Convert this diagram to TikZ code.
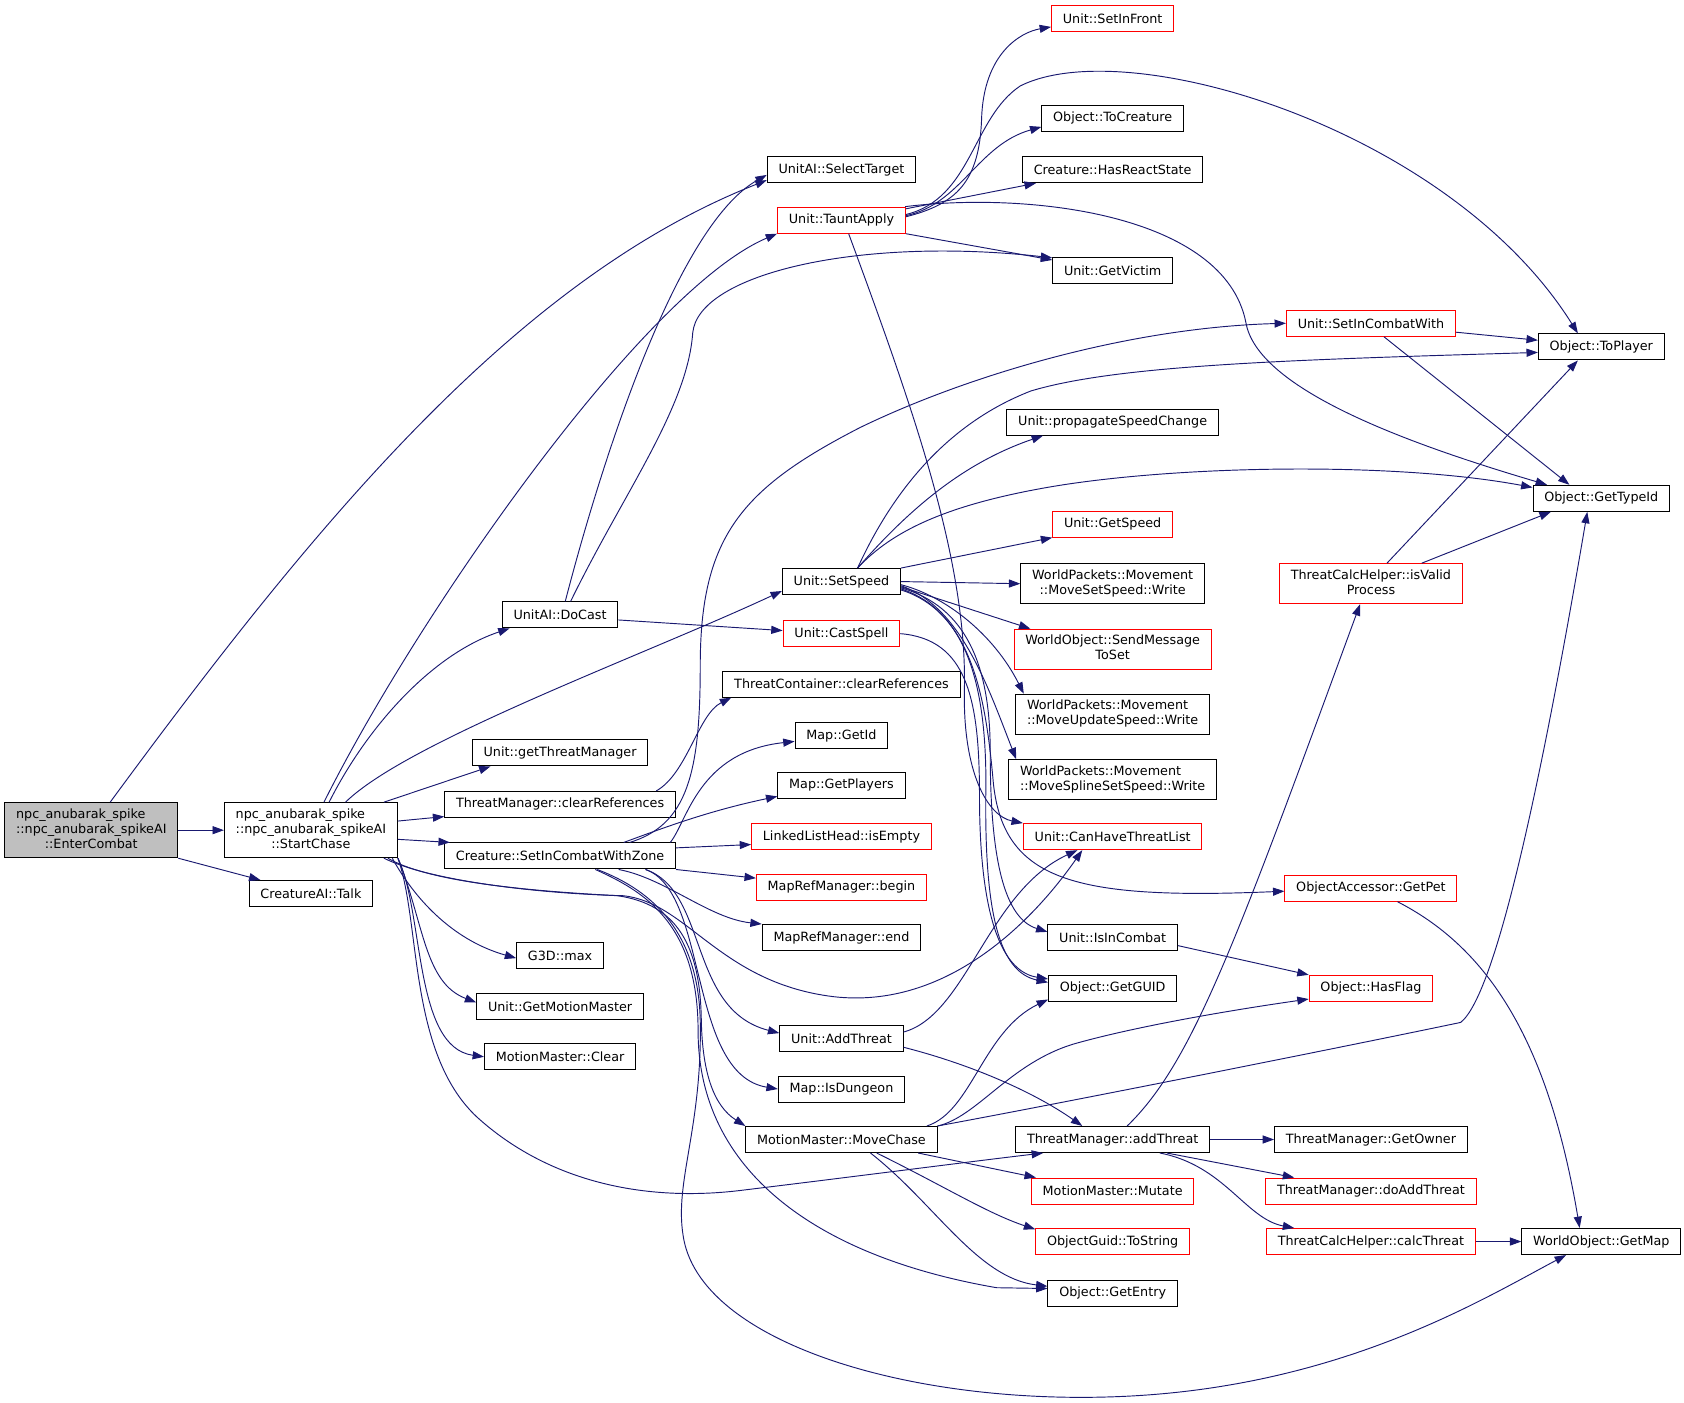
\documentclass[tikz,border=0pt]{standalone}
\usepackage{fontspec}
\setmainfont{DejaVu Sans}
\usetikzlibrary{arrows.meta}
\definecolor{edgeblue}{HTML}{191970}
\definecolor{nodegray}{HTML}{BFBFBF}
\newcommand{\dlines}[2]{\begin{tabular}{@{}l@{}}#1\\\multicolumn{1}{@{}c@{}}{#2}\end{tabular}}
\newcommand{\tlines}[3]{\begin{tabular}{@{}l@{}}#1\\#2\\\multicolumn{1}{@{}c@{}}{#3}\end{tabular}}
\tikzset{
  fn/.style={draw=black, fill=white, line width=0.75pt, inner xsep=8.4pt, inner ysep=3.7pt, minimum height=19.4pt, font=\fontsize{9.5}{11.2}\selectfont},
  fnred/.style={fn, draw=red},
  fngray/.style={fn, fill=nodegray},
  call/.style={edgeblue, line width=0.7pt, -{Triangle[length=8.5pt,width=6pt]}}
}
\begin{document}
\begin{tikzpicture}[x=0.8pt,y=-0.8pt]
        \useasboundingbox (0,0) rectangle (1568,1306);
        \node[fngray] (enter) at (85,773) {\tlines{npc\_anubarak\_spike}{::npc\_anubarak\_spikeAI}{::EnterCombat}};
        \node[fn] (chase) at (289.5,773) {\tlines{npc\_anubarak\_spike}{::npc\_anubarak\_spikeAI}{::StartChase}};
        \node[fn] (talk) at (289.5,832) {CreatureAI::Talk};
        \node[fn] (selt) at (783.5,158) {UnitAI::SelectTarget};
        \node[fnred] (taunt) at (783.5,205) {Unit::TauntApply};
        \node[fn] (docast) at (521.5,572.5) {UnitAI::DoCast};
        \node[fn] (gettm) at (521.5,701) {Unit::getThreatManager};
        \node[fn] (clrref) at (521.5,749) {ThreatManager::clearReferences};
        \node[fn] (zone) at (521.5,797) {Creature::SetInCombatWithZone};
        \node[fn] (gmax) at (521.5,890) {G3D::max};
        \node[fn] (getmm) at (521.5,937.5) {Unit::GetMotionMaster};
        \node[fn] (clear) at (521.5,984) {MotionMaster::Clear};
        \node[fn] (speed) at (783.5,541.5) {Unit::SetSpeed};
        \node[fnred] (cast) at (783.5,590) {Unit::CastSpell};
        \node[fn] (tcclr) at (783.5,637) {ThreatContainer::clearReferences};
        \node[fn] (mapid) at (783.5,685) {Map::GetId};
        \node[fn] (players) at (783.5,731) {Map::GetPlayers};
        \node[fnred] (isempty) at (783.5,779) {LinkedListHead::isEmpty};
        \node[fnred] (mbegin) at (783.5,826) {MapRefManager::begin};
        \node[fn] (mend) at (783.5,873) {MapRefManager::end};
        \node[fn] (uaddthr) at (783.5,967) {Unit::AddThreat};
        \node[fn] (dungeon) at (783.5,1014) {Map::IsDungeon};
        \node[fn] (movechase) at (783.5,1061) {MotionMaster::MoveChase};
        \node[fnred] (infront) at (1036,17) {Unit::SetInFront};
        \node[fn] (tocreat) at (1036,110) {Object::ToCreature};
        \node[fn] (react) at (1036,158) {Creature::HasReactState};
        \node[fn] (victim) at (1036,252) {Unit::GetVictim};
        \node[fnred] (combatw) at (1276.5,301) {Unit::SetInCombatWith};
        \node[fn] (toplayer) at (1491,323) {Object::ToPlayer};
        \node[fn] (propag) at (1036,393) {Unit::propagateSpeedChange};
        \node[fn] (typeid) at (1491,464) {Object::GetTypeId};
        \node[fnred] (getspeed) at (1036,488) {Unit::GetSpeed};
        \node[fn] (wsetspd) at (1036,543.5) {\dlines{WorldPackets::Movement}{::MoveSetSpeed::Write}};
        \node[fnred] (sendmsg) at (1036,604.5) {\dlines{WorldObject::SendMessage}{ToSet}};
        \node[fnred] (validproc) at (1276.5,543.5) {\dlines{ThreatCalcHelper::isValid}{Process}};
        \node[fn] (wupdspd) at (1036,665) {\dlines{WorldPackets::Movement}{::MoveUpdateSpeed::Write}};
        \node[fn] (wsplspd) at (1036,726) {\dlines{WorldPackets::Movement}{::MoveSplineSetSpeed::Write}};
        \node[fnred] (canthreat) at (1036,779) {Unit::CanHaveThreatList};
        \node[fnred] (getpet) at (1276.5,827) {ObjectAccessor::GetPet};
        \node[fn] (incombat) at (1036,873) {Unit::IsInCombat};
        \node[fnred] (hasflag) at (1276.5,920) {Object::HasFlag};
        \node[fn] (getguid) at (1036,920) {Object::GetGUID};
        \node[fn] (addthr) at (1036,1061) {ThreatManager::addThreat};
        \node[fn] (owner) at (1276.5,1061) {ThreatManager::GetOwner};
        \node[fnred] (mutate) at (1036,1109) {MotionMaster::Mutate};
        \node[fnred] (doadd) at (1276.5,1109) {ThreatManager::doAddThreat};
        \node[fnred] (tostr) at (1036,1156) {ObjectGuid::ToString};
        \node[fnred] (calcthr) at (1276.5,1156) {ThreatCalcHelper::calcThreat};
        \node[fn] (getmap) at (1491,1156) {WorldObject::GetMap};
        \node[fn] (entry) at (1036,1204) {Object::GetEntry};
        \draw[call] (enter.east) -- (chase.west);
        \draw[call] (enter.south east) -- (talk.165);
        \draw[call] (enter.56) .. controls (293,488) and (480,260) .. (selt.188);
        \draw[call] (chase.65) .. controls (390,570) and (600,270) .. (taunt.south west);
        \draw[call] (chase.57) .. controls (340,680) and (400,610) .. (docast.195);
        \draw[call] (chase.39) .. controls (380,690) and (600,610) .. (speed.189);
        \draw[call] (chase.21) -- (gettm.191);
        \draw[call] (chase.6) -- (clrref.186);
        \draw[call] (chase.-6) -- (zone.173);
        \draw[call] (chase.-19) .. controls (385,835) and (420,875) .. (gmax.183);
        \draw[call] (chase.south east) .. controls (395,860) and (395,915) .. (getmm.177);
        \draw[call] (chase.south east) .. controls (395,850) and (385,975) .. (clear.west);
        \draw[call] (chase.south east) .. controls (392,860) and (380,980) .. (444,1040) .. controls (510,1100) and (600,1120) .. (693,1108) .. controls (800,1095) and (900,1082) .. (addthr.191);
        \draw[call] (chase.-21) .. controls (400,820) and (500,832) .. (580,834) .. controls (640,840) and (670,915) .. (776,928) .. controls (880,940) and (960,860) .. (canthreat.204);
        \draw[call] (chase.-20) .. controls (400,822) and (500,830) .. (575,834) .. controls (630,842) and (652,880) .. (653,950) .. controls (654,1000) and (665,1030) .. (movechase.north west);
        \draw[call] (docast.69) .. controls (560,430) and (630,210) .. (selt.184);
        \draw[call] (docast.52) .. controls (580,460) and (640,380) .. (645,310) .. controls (650,255) and (800,220) .. (victim.168);
        \draw[call] (docast.-5) -- (cast.177);
        \draw[call] (taunt.3) .. controls (890,190) and (912,170) .. (914,110) .. controls (916,50) and (950,30) .. (infront.188);
        \draw[call] (taunt.5) .. controls (905,185) and (905,110) .. (950,80) .. controls (1050,30) and (1350,120) .. (toplayer.150);
        \draw[call] (taunt.4) .. controls (895,190) and (910,135) .. (tocreat.187);
        \draw[call] (taunt.10) -- (react.190);
        \draw[call] (taunt.12) .. controls (960,178) and (1140,200) .. (1160,300) .. controls (1170,360) and (1300,410) .. (typeid.166);
        \draw[call] (taunt.south east) -- (victim.170);
        \draw[call] (taunt.-62) .. controls (850,380) and (900,520) .. (898,640) .. controls (896,720) and (920,760) .. (canthreat.north west);
        \draw[call] (zone.11) .. controls (640,768) and (652,720) .. (652,620) .. controls (652,500) and (690,455) .. (801,398) .. controls (900,350) and (1050,305) .. (combatw.west);
        \draw[call] (zone.7) .. controls (640,765) and (650,700) .. (mapid.187);
        \draw[call] (zone.12) .. controls (620,770) and (660,755) .. (players.190);
        \draw[call] (zone.4) -- (isempty.185);
        \draw[call] (zone.south east) -- (mbegin.174);
        \draw[call] (zone.-13) .. controls (620,818) and (660,855) .. (mend.north west);
        \draw[call] (zone.-9) .. controls (660,830) and (640,940) .. (uaddthr.175);
        \draw[call] (zone.-9) .. controls (660,830) and (640,1000) .. (dungeon.west);
        \draw[call] (zone.-21) .. controls (600,830) and (650,860) .. (650,960) .. controls (650,1090) and (760,1170) .. (928,1199) -- (entry.176);
        \draw[call] (zone.-20) .. controls (610,830) and (650,870) .. (652,950) .. controls (654,1050) and (628,1100) .. (636,1150) .. controls (650,1250) and (850,1310) .. (1050,1300) .. controls (1250,1290) and (1380,1210) .. (getmap.201);
        \draw[call] (clrref.8) .. controls (640,720) and (650,665) .. (tcclr.187);
        \draw[call] (speed.40) .. controls (830,460) and (880,395) .. (960,364) .. controls (1040,340) and (1200,335) .. (toplayer.185);
        \draw[call] (speed.40) .. controls (850,470) and (900,430) .. (propag.191);
        \draw[call] (speed.40) .. controls (830,495) and (880,470) .. (980,453) .. controls (1100,433) and (1300,430) .. (typeid.171);
        \draw[call] (speed.north east) -- (getspeed.south west);
        \draw[call] (speed.east) -- (wsetspd.west);
        \draw[call] (speed.-5) -- (sendmsg.166);
        \draw[call] (speed.-3) .. controls (880,555) and (925,590) .. (wupdspd.167);
        \draw[call] (speed.-4) .. controls (895,565) and (920,640) .. (wsplspd.168);
        \draw[call] (speed.-6) .. controls (900,565) and (922,620) .. (922,700) .. controls (922,800) and (935,855) .. (incombat.175);
        \draw[call] (speed.-7) .. controls (905,570) and (918,650) .. (918,730) .. controls (916,850) and (930,905) .. (getguid.175);
        \draw[call] (speed.-8) .. controls (905,570) and (918,650) .. (925,730) .. controls (935,820) and (1000,838) .. (getpet.182);
        \draw[call] (cast.east) .. controls (900,595) and (912,650) .. (912,740) .. controls (912,860) and (935,905) .. (getguid.172);
        \draw[call] (movechase.9) .. controls (905,1035) and (915,960) .. (getguid.190);
        \draw[call] (movechase.8) .. controls (910,1040) and (940,990) .. (1000,972) .. controls (1060,955) and (1150,940) .. (hasflag.190);
        \draw[call] (movechase.north east) .. controls (1000,1025) and (1250,975) .. (1360,952) .. controls (1395,925) and (1440,700) .. (typeid.224);
        \draw[call] (movechase.-10) -- (mutate.170);
        \draw[call] (movechase.-21) .. controls (880,1105) and (920,1130) .. (tostr.171);
        \draw[call] (movechase.-25) .. controls (870,1120) and (910,1190) .. (entry.174);
        \draw[call] (uaddthr.6) .. controls (900,945) and (920,830) .. (canthreat.201);
        \draw[call] (uaddthr.-8) .. controls (900,990) and (960,1015) .. (addthr.156);
        \draw[call] (addthr.43) .. controls (1110,990) and (1150,880) .. (validproc.242);
        \draw[call] (addthr.east) -- (owner.west);
        \draw[call] (addthr.-14) -- (doadd.170);
        \draw[call] (addthr.-16) .. controls (1140,1085) and (1160,1135) .. (calcthr.170);
        \draw[call] (validproc.52) -- (toplayer.210);
        \draw[call] (validproc.22) -- (typeid.195);
        \draw[call] (combatw.-6) -- (toplayer.174);
        \draw[call] (combatw.-46) -- (typeid.157);
        \draw[call] (getpet.-27) .. controls (1380,880) and (1440,960) .. (getmap.148);
        \draw[call] (calcthr.east) -- (getmap.west);
        \draw[call] (incombat.-7) -- (hasflag.168);
    \end{tikzpicture}
\end{document}
